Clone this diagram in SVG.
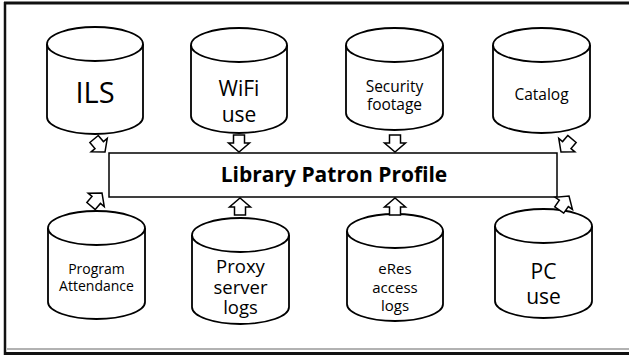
<svg xmlns="http://www.w3.org/2000/svg" width="629" height="356" viewBox="0 0 629 356">
<style>
.cyl{fill:#fff;stroke:#000;stroke-width:1.8}
.t{font-family:"Open Sans","Noto Sans","Liberation Sans",sans-serif;fill:#000;text-anchor:middle}
.arr{fill:#fff;stroke:#000;stroke-width:1.5;stroke-linejoin:miter}
</style>
<defs>
<path id="ar" d="M-5.5,-17 L5.5,-17 L5.5,-9 L10.5,-9 L0,0 L-10.5,-9 L-5.5,-9 Z"/>
</defs>
<rect x="0" y="0" width="629" height="356" fill="#fff"/>
<g id="frame" fill="none">
<line x1="4" y1="3" x2="629" y2="3" stroke="#111" stroke-width="3"/>
<line x1="5" y1="2" x2="5" y2="355" stroke="#111" stroke-width="2.5"/>
<line x1="7" y1="349" x2="629" y2="349" stroke="#999" stroke-width="1.5"/>
<line x1="4" y1="353.5" x2="629" y2="353.5" stroke="#111" stroke-width="3"/>
</g>
<g id="node-ils">
<path class="cyl" d="M47,44 A48,17 0 0 1 143,44 L143,117 A48,17 0 0 1 47,117 Z"/>
<path class="cyl" fill="none" d="M47,44 A48,17 0 0 0 143,44"/>
<text class="t" x="95" y="103" font-size="29">ILS</text>
</g>
<g id="node-wifi">
<path class="cyl" d="M191,45 A48,17 0 0 1 287,45 L287,116 A48,17 0 0 1 191,116 Z"/>
<path class="cyl" d="M191,45 A48,17 0 0 0 287,45"/>
<text class="t" x="239" y="96" font-size="21">WiFi</text>
<text class="t" x="239" y="122" font-size="21">use</text>
</g>
<g id="node-security">
<path class="cyl" d="M346,45 A48.5,17 0 0 1 443,45 L443,113 A48.5,17 0 0 1 346,113 Z"/>
<path class="cyl" d="M346,45 A48.5,17 0 0 0 443,45"/>
<text class="t" x="394.5" y="92" font-size="15.5">Security</text>
<text class="t" x="394.5" y="110" font-size="15.5">footage</text>
</g>
<g id="node-catalog">
<path class="cyl" d="M493,45 A48.5,17 0 0 1 590,45 L590,116 A48.5,17 0 0 1 493,116 Z"/>
<path class="cyl" d="M493,45 A48.5,17 0 0 0 590,45"/>
<text class="t" x="541.5" y="100" font-size="15.5">Catalog</text>
</g>
<g id="node-profile">
<rect x="109" y="153" width="448" height="44" fill="#fff" stroke="#000" stroke-width="1.5"/>
<text class="t" x="334" y="182" font-size="21" font-weight="bold">Library Patron Profile</text>
</g>
<g id="node-program">
<path class="cyl" d="M48,228 A48.5,17 0 0 1 145,228 L145,302 A48.5,17 0 0 1 48,302 Z"/>
<path class="cyl" d="M48,228 A48.5,17 0 0 0 145,228"/>
<text class="t" x="96.5" y="274" font-size="14">Program</text>
<text class="t" x="96.5" y="291" font-size="14">Attendance</text>
</g>
<g id="node-proxy">
<path class="cyl" d="M192,235 A48.5,17 0 0 1 289,235 L289,307 A48.5,17 0 0 1 192,307 Z"/>
<path class="cyl" d="M192,235 A48.5,17 0 0 0 289,235"/>
<text class="t" x="240.5" y="273" font-size="18.5">Proxy</text>
<text class="t" x="240.5" y="294" font-size="18.5">server</text>
<text class="t" x="240.5" y="314" font-size="18.5">logs</text>
</g>
<g id="node-eres">
<path class="cyl" d="M347,231 A48,17 0 0 1 443,231 L443,304 A48,17 0 0 1 347,304 Z"/>
<path class="cyl" d="M347,231 A48,17 0 0 0 443,231"/>
<text class="t" x="395" y="274" font-size="15">eRes</text>
<text class="t" x="395" y="293" font-size="15">access</text>
<text class="t" x="395" y="311" font-size="15">logs</text>
</g>
<g id="node-pc">
<path class="cyl" d="M495,226 A48.5,17 0 0 1 592,226 L592,301 A48.5,17 0 0 1 495,301 Z"/>
<path class="cyl" d="M495,226 A48.5,17 0 0 0 592,226"/>
<text class="t" x="543.5" y="279" font-size="21">PC</text>
<text class="t" x="543.5" y="304" font-size="21">use</text>
</g>
<g id="connectors">
<use href="#ar" class="arr" transform="translate(105,152) rotate(-40)"/>
<use href="#ar" class="arr" transform="translate(239,152)"/>
<use href="#ar" class="arr" transform="translate(395,152)"/>
<use href="#ar" class="arr" transform="translate(561,152) rotate(40)"/>
<use href="#ar" class="arr" transform="translate(102,193) rotate(-140)"/>
<use href="#ar" class="arr" transform="translate(240,198) rotate(180)"/>
<use href="#ar" class="arr" transform="translate(395,198) rotate(180)"/>
<use href="#ar" class="arr" transform="translate(569,196) rotate(-145)"/>
</g>
</svg>
